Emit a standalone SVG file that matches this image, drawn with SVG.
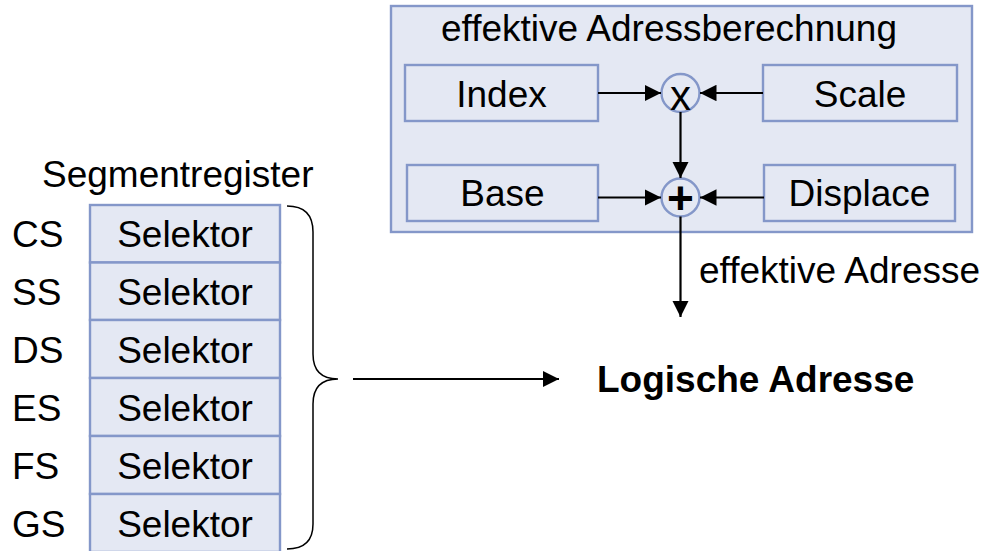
<svg xmlns="http://www.w3.org/2000/svg" width="986" height="551" viewBox="0 0 986 551">
<defs>
<style>
.box{fill:#e4e8f3;stroke:#8497c9;stroke-width:2.4}
.t{font-family:"Liberation Sans",Arial,sans-serif;font-size:37px;fill:#000}
.c{text-anchor:middle}
.ln{stroke:#000;stroke-width:2.2;fill:none}
</style>
<marker id="ah" viewBox="0 0 10 10" refX="10" refY="5" markerWidth="7.5" markerHeight="7.5" markerUnits="strokeWidth" orient="auto"><path d="M0,0 L10,5 L0,10 z" fill="#000"/></marker>
</defs>
<rect width="986" height="551" fill="#fff"/>

<g id="adressberechnung">
<rect class="box" x="391" y="6" width="581" height="226"/>
<text class="t" x="441" y="41">effektive Adressberechnung</text>
</g>
<g id="index"><rect class="box" x="405" y="65" width="193" height="56"/><text class="t c" x="501.5" y="107">Index</text></g>
<g id="scale"><rect class="box" x="763" y="65" width="194" height="56"/><text class="t c" x="860" y="107">Scale</text></g>
<g id="base"><rect class="box" x="407" y="165" width="191" height="56"/><text class="t c" x="502.5" y="206">Base</text></g>
<g id="displace"><rect class="box" x="764" y="165" width="191" height="56"/><text class="t c" x="859.5" y="206">Displace</text></g>
<g id="mul"><circle class="box" cx="680.5" cy="93" r="19"/><text class="t c" x="680.5" y="110" style="font-size:42px">x</text></g>
<g id="add"><circle class="box" cx="680.5" cy="197.5" r="19"/><text class="t c" x="680.5" y="214" style="font-size:46px;font-weight:bold">+</text></g>

<g id="segmentregister">
<text class="t" x="42" y="187">Segmentregister</text>
<rect class="box" x="90" y="205" width="190" height="57.5"/>
<rect class="box" x="90" y="262.5" width="190" height="57.5"/>
<rect class="box" x="90" y="320" width="190" height="58"/>
<rect class="box" x="90" y="378" width="190" height="58"/>
<rect class="box" x="90" y="436" width="190" height="58"/>
<rect class="box" x="90" y="494" width="190" height="58"/>
<text class="t c" x="185" y="247">Selektor</text>
<text class="t c" x="185" y="305">Selektor</text>
<text class="t c" x="185" y="363">Selektor</text>
<text class="t c" x="185" y="421">Selektor</text>
<text class="t c" x="185" y="479">Selektor</text>
<text class="t c" x="185" y="537">Selektor</text>
<text class="t" x="12" y="247">CS</text>
<text class="t" x="12" y="305">SS</text>
<text class="t" x="12" y="363">DS</text>
<text class="t" x="12" y="421">ES</text>
<text class="t" x="12" y="479">FS</text>
<text class="t" x="12" y="537">GS</text>
</g>

<g id="logische">
<text class="t" x="597" y="392" style="font-weight:bold">Logische Adresse</text>
</g>
<g id="ea-label"><text class="t" x="699" y="283">effektive Adresse</text></g>

<g id="connectors">
<line class="ln" x1="598" y1="93" x2="661" y2="93" marker-end="url(#ah)"/>
<line class="ln" x1="763" y1="93" x2="700" y2="93" marker-end="url(#ah)"/>
<line class="ln" x1="680.5" y1="112" x2="680.5" y2="178" marker-end="url(#ah)"/>
<line class="ln" x1="598" y1="197.5" x2="661" y2="197.5" marker-end="url(#ah)"/>
<line class="ln" x1="764" y1="197.5" x2="700" y2="197.5" marker-end="url(#ah)"/>
<line class="ln" x1="680.5" y1="216.5" x2="680.5" y2="317" marker-end="url(#ah)"/>
<line class="ln" x1="353" y1="379" x2="559" y2="379" marker-end="url(#ah)"/>
<path d="M287,206 Q313,206 313,232 L313,354 Q313,379 338,379 Q313,379 313,404 L313,524 Q313,549 287,549" fill="none" stroke="#000" stroke-width="1.5"/>
</g>
</svg>
